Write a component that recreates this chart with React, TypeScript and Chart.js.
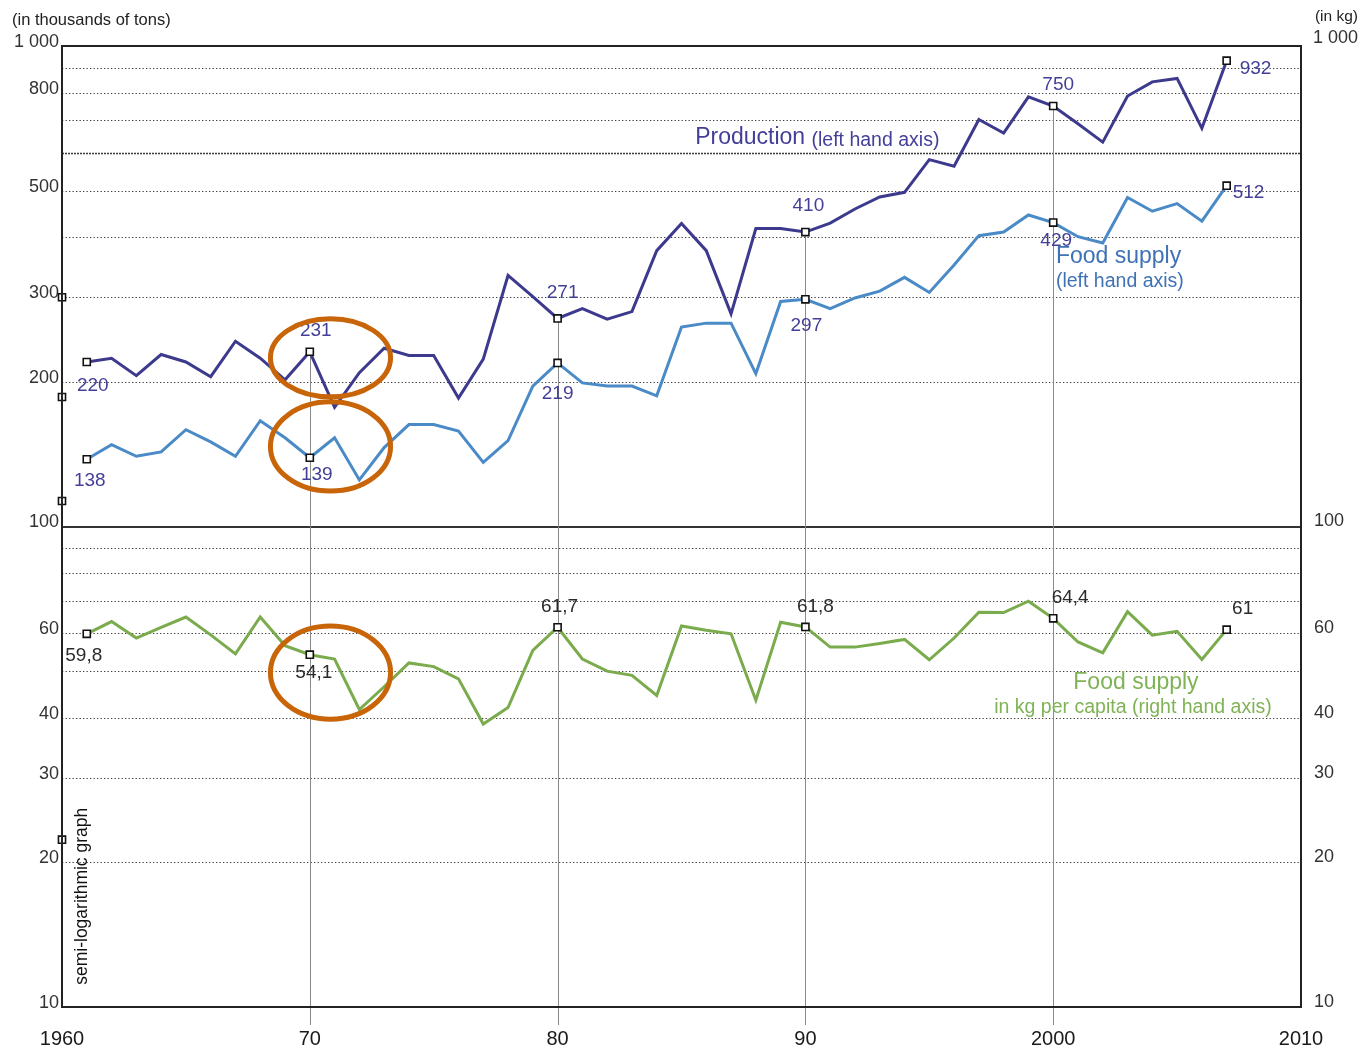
import React, { useEffect, useRef } from "react";
import { Chart, registerables } from "chart.js";

Chart.register(...registerables);

// ---------- DATA ----------
const years = [
  1961, 1962, 1963, 1964, 1965, 1966, 1967, 1968, 1969, 1970,
  1971, 1972, 1973, 1974, 1975, 1976, 1977, 1978, 1979, 1980,
  1981, 1982, 1983, 1984, 1985, 1986, 1987, 1988, 1989, 1990,
  1991, 1992, 1993, 1994, 1995, 1996, 1997, 1998, 1999, 2000,
  2001, 2002, 2003, 2004, 2005, 2006, 2007,
];

// Production, thousands of tons (left axis)
const production = [
  220, 224, 206, 228, 220, 205, 243, 224, 202, 231,
  177, 209, 235, 227, 227, 185, 223, 333, 301, 271,
  284, 270, 280, 375, 427, 375, 277, 417, 417, 410,
  428, 458, 485, 496, 580, 562, 703, 659, 784, 750,
  689, 631, 787, 842, 856, 674, 932,
];

// Food supply, thousands of tons (left axis)
const foodSupply = [
  138, 148, 140, 143, 159, 150, 140, 166, 153, 139,
  153, 125, 146, 163, 163, 158, 136, 151, 196, 219,
  199, 196, 196, 187, 260, 265, 265, 208, 294, 297,
  284, 299, 309, 330, 307, 350, 403, 410, 445, 429,
  401, 389, 484, 453, 470, 432, 512,
];

// Food supply, kg per capita (right axis)
const perCapita = [
  59.8, 63.4, 58.6, 61.7, 64.8, 59.5, 54.3, 64.8, 56.5, 54.1,
  53.0, 41.6, 46.4, 52.0, 51.1, 48.2, 38.8, 42.0, 55.2, 61.7,
  53.0, 50.0, 49.0, 44.5, 62.1, 60.8, 59.8, 43.5, 63.2, 61.8,
  56.1, 56.1, 57.1, 58.2, 52.8, 58.6, 66.3, 66.2, 69.9, 64.4,
  57.5, 54.6, 66.5, 59.4, 60.5, 52.9, 61.0,
];

const labeledYears = [1961, 1970, 1980, 1990, 2000, 2007];
const productionLabels = ["220", "231", "271", "410", "750", "932"];
const foodSupplyLabels = ["138", "139", "219", "297", "429", "512"];
const perCapitaLabels = ["59,8", "54,1", "61,7", "61,8", "64,4", "61"];

const decadeLineYears = [1970, 1980, 1990, 2000];

const xTicks = [1960, 1970, 1980, 1990, 2000, 2010];
const xTickLabels = ["1960", "70", "80", "90", "2000", "2010"];
const leftTicks = [10, 20, 30, 40, 60, 100, 200, 300, 500, 800, 1000];
const leftTickLabels = ["10", "20", "30", "40", "60", "100", "200", "300", "500", "800", "1 000"];
const rightTicks = [10, 20, 30, 40, 60, 100];
const rightTickLabels = ["10", "20", "30", "40", "60", "100"];
const gridValues = [20, 30, 40, 50, 60, 70, 80, 90, 200, 300, 400, 500, 600, 700, 800, 900];

// small square marks sitting on the left axis in the original
const axisMarkValues = [300, 186, 113, 22.3];

// ---------- STYLE ----------
const FONT = "'Liberation Sans', Arial, Helvetica, sans-serif";
const C_PROD = "#3d3a8e";
const C_FOOD = "#4a8ac6";
const C_CAP = "#7aab4c";
const C_LBL = "#433f98";
const C_ORANGE = "#c96509";

type Off = { dx: number; dy: number; align: CanvasTextAlign };
const prodOffsets: Off[] = [
  { dx: 6, dy: 24, align: "center" },
  { dx: 6, dy: -21, align: "center" },
  { dx: 5, dy: -26, align: "center" },
  { dx: 3, dy: -26, align: "center" },
  { dx: 5, dy: -21, align: "center" },
  { dx: 13, dy: 8, align: "left" },
];
const foodOffsets: Off[] = [
  { dx: 3, dy: 21, align: "center" },
  { dx: 7, dy: 17, align: "center" },
  { dx: 0, dy: 31, align: "center" },
  { dx: 1, dy: 26, align: "center" },
  { dx: 3, dy: 18, align: "center" },
  { dx: 6, dy: 7, align: "left" },
];
const capOffsets: Off[] = [
  { dx: -3, dy: 22, align: "center" },
  { dx: 4, dy: 18, align: "center" },
  { dx: 2, dy: -21, align: "center" },
  { dx: 10, dy: -20, align: "center" },
  { dx: 17, dy: -21, align: "center" },
  { dx: 16, dy: -21, align: "center" },
];

// ellipses (in data coordinates): x range in years, y range in values
const ellipses = [
  { x0: 1968.31, x1: 1973.36, yHi: 273.8, yLo: 183.9 },
  { x0: 1968.31, x1: 1973.36, yHi: 183.9, yLo: 117.1 },
  { x0: 1968.31, x1: 1973.36, yHi: 62.8, yLo: 39.25 },
];

const pts = (vals: number[]) => years.map((yr, i) => ({ x: yr, y: vals[i] }));
const markRadius = (ctx: any) =>
  labeledYears.includes(years[ctx.dataIndex]) ? 5 : 0;

const decorPlugin = {
  id: "decor",
  beforeDatasetsDraw(chart: any) {
    const { ctx, chartArea: a, scales } = chart;
    const xs = scales.x;
    const ys = scales.y;
    ctx.save();
    // dotted gridlines
    gridValues.forEach((v) => {
      const py = Math.round(ys.getPixelForValue(v)) + 0.5;
      ctx.beginPath();
      if (v === 600) {
        ctx.setLineDash([2, 1]);
        ctx.lineWidth = 1.6;
      } else {
        ctx.setLineDash([1.3, 2.2]);
        ctx.lineWidth = 1.2;
      }
      ctx.strokeStyle = "#3a3a3a";
      ctx.moveTo(a.left, py);
      ctx.lineTo(a.right, py);
      ctx.stroke();
    });
    ctx.setLineDash([]);
    // solid divider at 100
    const p100 = Math.round(ys.getPixelForValue(100));
    ctx.beginPath();
    ctx.lineWidth = 2;
    ctx.strokeStyle = "#333";
    ctx.moveTo(a.left, p100);
    ctx.lineTo(a.right, p100);
    ctx.stroke();
    // vertical decade lines from the production point down past the axis
    decadeLineYears.forEach((yr) => {
      const i = years.indexOf(yr);
      const px = Math.round(xs.getPixelForValue(yr)) + 0.5;
      const top = ys.getPixelForValue(production[i]);
      ctx.beginPath();
      ctx.lineWidth = 1;
      ctx.strokeStyle = "#8a8a8a";
      ctx.moveTo(px, top);
      ctx.lineTo(px, a.bottom + 18);
      ctx.stroke();
    });
    ctx.restore();
  },
  afterDatasetsDraw(chart: any) {
    const { ctx, chartArea: a, scales } = chart;
    const xs = scales.x;
    const ys = scales.y;
    ctx.save();
    // frame
    ctx.strokeStyle = "#222";
    ctx.lineWidth = 2;
    ctx.beginPath();
    ctx.moveTo(a.left, a.bottom);
    ctx.lineTo(a.left, a.top);
    ctx.lineTo(a.right, a.top);
    ctx.lineTo(a.right, a.bottom);
    ctx.closePath();
    ctx.stroke();

    // value labels
    const drawLabels = (vals: number[], labels: string[], offs: Off[], color: string) => {
      ctx.fillStyle = color;
      ctx.font = `19px ${FONT}`;
      ctx.textBaseline = "middle";
      labeledYears.forEach((yr, k) => {
        const i = years.indexOf(yr);
        const px = xs.getPixelForValue(yr);
        const py = ys.getPixelForValue(vals[i]);
        ctx.textAlign = offs[k].align;
        ctx.fillText(labels[k], px + offs[k].dx, py + offs[k].dy);
      });
    };
    drawLabels(production, productionLabels, prodOffsets, C_LBL);
    drawLabels(foodSupply, foodSupplyLabels, foodOffsets, C_LBL);
    drawLabels(perCapita, perCapitaLabels, capOffsets, "#2b2b2b");

    // series annotations
    ctx.textBaseline = "middle";
    ctx.textAlign = "left";
    let px = xs.getPixelForValue(1985.55);
    let py = ys.getPixelForValue(643);
    ctx.fillStyle = C_LBL;
    ctx.font = `23px ${FONT}`;
    ctx.fillText("Production", px, py);
    const w = ctx.measureText("Production ").width;
    ctx.font = `19.5px ${FONT}`;
    ctx.fillText("(left hand axis)", px + w, py + 2);

    ctx.fillStyle = "#3f72b5";
    px = xs.getPixelForValue(2000.11);
    ctx.font = `23px ${FONT}`;
    ctx.fillText("Food supply", px, ys.getPixelForValue(365));
    ctx.font = `19.5px ${FONT}`;
    ctx.fillText("(left hand axis)", px, ys.getPixelForValue(324));

    ctx.fillStyle = "#7fb356";
    ctx.textAlign = "center";
    ctx.font = `23px ${FONT}`;
    ctx.fillText("Food supply", xs.getPixelForValue(2003.34), ys.getPixelForValue(47.3));
    ctx.font = `19.5px ${FONT}`;
    ctx.fillText("in kg per capita (right hand axis)", xs.getPixelForValue(2003.22), ys.getPixelForValue(42.0));

    // rotated note
    ctx.save();
    ctx.translate(xs.getPixelForValue(1960.81), ys.getPixelForValue(17.0));
    ctx.rotate(-Math.PI / 2);
    ctx.fillStyle = "#111";
    ctx.font = `17.5px ${FONT}`;
    ctx.textAlign = "center";
    ctx.textBaseline = "middle";
    ctx.fillText("semi-logarithmic graph", 0, 0);
    ctx.restore();

    // orange ellipses
    ctx.strokeStyle = C_ORANGE;
    ctx.lineWidth = 5;
    ellipses.forEach((e) => {
      const x0 = xs.getPixelForValue(e.x0);
      const x1 = xs.getPixelForValue(e.x1);
      const y0 = ys.getPixelForValue(e.yHi);
      const y1 = ys.getPixelForValue(e.yLo);
      ctx.beginPath();
      ctx.ellipse((x0 + x1) / 2, (y0 + y1) / 2, (x1 - x0) / 2 - 2.5, (y1 - y0) / 2 - 2.5, 0, 0, Math.PI * 2);
      ctx.stroke();
    });

    // unit titles
    ctx.fillStyle = "#222";
    ctx.textBaseline = "middle";
    ctx.textAlign = "left";
    ctx.font = `16.5px ${FONT}`;
    ctx.fillText("(in thousands of tons)", 12, 20);
    ctx.textAlign = "right";
    ctx.font = `15.5px ${FONT}`;
    ctx.fillText("(in kg)", 1358, 17);
    ctx.font = `18px ${FONT}`;
    ctx.fillStyle = "#333";
    ctx.fillText("1 000", 1358, 38);
    ctx.restore();
  },
};

export default function App() {
  const ref = useRef<HTMLCanvasElement | null>(null);

  useEffect(() => {
    if (!ref.current) return;
    const pointStyle = {
      pointStyle: "rect" as const,
      pointRadius: markRadius,
      pointHoverRadius: markRadius,
      pointBackgroundColor: "#ffffff",
      pointBorderColor: "#111111",
      pointBorderWidth: 1.6,
    };
    const chart = new Chart(ref.current, {
      type: "line",
      data: {
        datasets: [
          {
            label: "Axis marks",
            data: axisMarkValues.map((v) => ({ x: 1960, y: v })),
            showLine: false,
            pointStyle: "rect",
            pointRadius: 5,
            pointBackgroundColor: "#ffffff",
            pointBorderColor: "#111111",
            pointBorderWidth: 1.6,
            clip: false,
          } as any,
          {
            label: "Production",
            data: pts(production),
            borderColor: C_PROD,
            borderWidth: 3,
            tension: 0,
            clip: false,
            ...pointStyle,
          } as any,
          {
            label: "Food supply",
            data: pts(foodSupply),
            borderColor: C_FOOD,
            borderWidth: 3,
            tension: 0,
            clip: false,
            ...pointStyle,
          } as any,
          {
            label: "Food supply per capita",
            data: pts(perCapita),
            borderColor: C_CAP,
            borderWidth: 3,
            tension: 0,
            clip: false,
            ...pointStyle,
          } as any,
        ],
      },
      options: {
        responsive: false,
        maintainAspectRatio: false,
        animation: false,
        layout: { padding: { top: 46, left: 0, right: 0, bottom: 0 } },
        plugins: { legend: { display: false }, tooltip: { enabled: false } },
        scales: {
          x: {
            type: "linear",
            min: 1960,
            max: 2010,
            grid: { display: false, drawTicks: false },
            border: { display: false },
            afterBuildTicks: (s: any) => {
              s.ticks = xTicks.map((v) => ({ value: v }));
            },
            afterFit: (s: any) => {
              s.height = 44;
            },
            ticks: {
              autoSkip: false,
              maxRotation: 0,
              padding: 20,
              color: "#1a1a1a",
              font: { family: FONT, size: 20 },
              callback: (v: any) => {
                const k = xTicks.indexOf(Number(v));
                return k >= 0 ? xTickLabels[k] : "";
              },
            },
          },
          y: {
            type: "logarithmic",
            position: "left",
            min: 10,
            max: 1000,
            grid: { display: false, drawTicks: false },
            border: { display: false },
            afterBuildTicks: (s: any) => {
              s.ticks = leftTicks.map((v) => ({ value: v }));
            },
            afterFit: (s: any) => {
              s.width = 62;
            },
            ticks: {
              autoSkip: false,
              padding: 3,
              labelOffset: -4,
              color: "#333",
              font: { family: FONT, size: 18 },
              callback: (v: any) => {
                const k = leftTicks.indexOf(Number(v));
                return k >= 0 ? leftTickLabels[k] : "";
              },
            },
          },
          y2: {
            type: "logarithmic",
            position: "right",
            display: true,
            min: 10,
            max: 1000,
            grid: { display: false, drawTicks: false },
            border: { display: false },
            afterBuildTicks: (s: any) => {
              s.ticks = rightTicks.map((v) => ({ value: v }));
            },
            afterFit: (s: any) => {
              s.width = 61;
            },
            ticks: {
              autoSkip: false,
              padding: 13,
              labelOffset: -5,
              color: "#333",
              font: { family: FONT, size: 18 },
              callback: (v: any) => {
                const k = rightTicks.indexOf(Number(v));
                return k >= 0 ? rightTickLabels[k] : "";
              },
            },
          },
        },
      } as any,
      plugins: [decorPlugin as any],
    });
    return () => chart.destroy();
  }, []);

  return (
    <div style={{ position: "absolute", left: 0, top: 0, width: 1362, height: 1051, background: "#fff" }}>
      <canvas ref={ref} width={1362} height={1051} style={{ display: "block", width: 1362, height: 1051 }} />
    </div>
  );
}
